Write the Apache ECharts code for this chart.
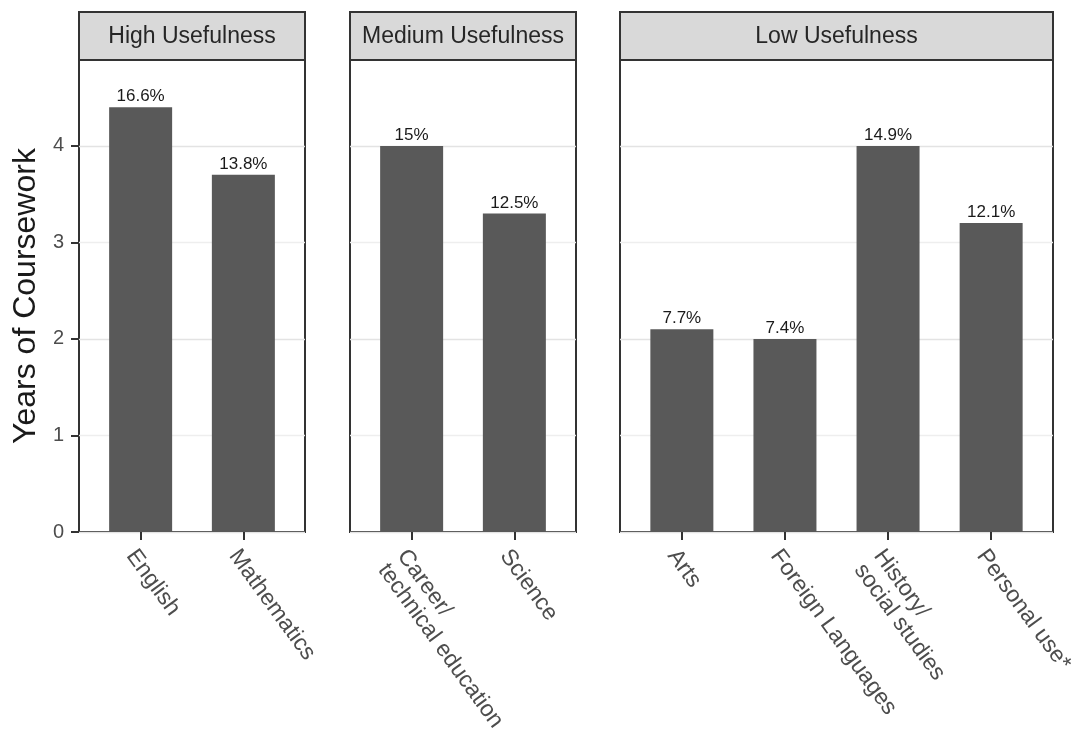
<!DOCTYPE html>
<html>
<head>
<meta charset="utf-8">
<script src="https://cdn.jsdelivr.net/npm/echarts@6/dist/echarts.min.js"></script>
<style>
html,body{margin:0;padding:0;background:#fff;}
#chart{width:1078px;height:744px;}
</style>
</head>
<body>
<div id="chart"></div>
<script>
// ---- data ----
const panelTitles = ['High Usefulness', 'Medium Usefulness', 'Low Usefulness'];

const highCategories = ['English', 'Mathematics'];
const highYears = [4.4, 3.7];
const highPercents = ['16.6%', '13.8%'];

const mediumCategories = ['Career/\ntechnical education', 'Science'];
const mediumYears = [4.0, 3.3];
const mediumPercents = ['15%', '12.5%'];

const lowCategories = ['Arts', 'Foreign Languages', 'History/\nsocial studies', 'Personal use*'];
const lowYears = [2.1, 2.0, 4.0, 3.2];
const lowPercents = ['7.7%', '7.4%', '14.9%', '12.1%'];

const yTickValues = [0, 1, 2, 3, 4];
const yAxisTitle = 'Years of Coursework';

// ---- layout / style ----
const FONT = 'Liberation Sans, Arial, sans-serif';
const PANELS = [
  { left: 79, width: 226 },
  { left: 350, width: 226 },
  { left: 620, width: 433 }
];
const PLOT_TOP = 60, PLOT_BOTTOM = 532, STRIP_TOP = 12;
const Y_MAX = 4.89;
const BAR_COLOR = '#595959';
const BORDER = '#333333';

const panelData = [
  { cats: highCategories, vals: highYears, pcts: highPercents },
  { cats: mediumCategories, vals: mediumYears, pcts: mediumPercents },
  { cats: lowCategories, vals: lowYears, pcts: lowPercents }
];

const grids = [], xAxes = [], yAxes = [], series = [], graphics = [];

panelData.forEach((p, i) => {
  const L = PANELS[i];
  const n = p.cats.length;
  const unit = L.width / (n + 0.2);
  grids.push({
    left: L.left, top: PLOT_TOP, width: L.width, height: PLOT_BOTTOM - PLOT_TOP,
    show: true, backgroundColor: '#fff', borderColor: BORDER, borderWidth: 2,
    containLabel: false, outerBoundsMode: 'none'
  });
  const positions = p.cats.map((c, k) => k + 1);
  xAxes.push({
    type: 'value', gridIndex: i, min: 0.4, max: n + 0.6,
    axisLine: { show: false },
    splitLine: { show: false },
    axisTick: { show: true, customValues: positions, length: 8, lineStyle: { color: BORDER, width: 2 } },
    axisLabel: {
      customValues: positions,
      formatter: v => p.cats[Math.round(v) - 1] || '',
      rotate: -54, align: 'left', verticalAlign: 'top',
      margin: 13, color: '#4d4d4d', fontSize: 23, fontFamily: FONT, lineHeight: 24
    }
  });
  yAxes.push({
    type: 'value', gridIndex: i, min: 0, max: Y_MAX, interval: 0.5,
    axisLine: { show: false },
    splitLine: { show: true, lineStyle: { color: ['#e3e3e3', '#eeeeee'], width: 1.3 } },
    axisTick: { show: i === 0, customValues: yTickValues, length: 8, lineStyle: { color: BORDER, width: 2 } },
    axisLabel: {
      show: i === 0, customValues: yTickValues, margin: 15,
      color: '#4d4d4d', fontSize: 20, fontFamily: FONT
    },
    name: i === 0 ? yAxisTitle : '',
    nameLocation: 'middle', nameGap: 37,
    nameTextStyle: { fontSize: 32, color: '#1a1a1a', fontFamily: FONT }
  });
  series.push({
    type: 'bar', xAxisIndex: i, yAxisIndex: i,
    barWidth: Math.round(unit * 0.61),
    itemStyle: { color: BAR_COLOR },
    data: p.vals.map((v, k) => [k + 1, v]),
    label: {
      show: true, position: 'top', distance: 2,
      formatter: prm => p.pcts[prm.dataIndex],
      color: '#1a1a1a', fontSize: 17, fontFamily: FONT
    },
    silent: true, animation: false
  });
  graphics.push({
    type: 'rect',
    shape: { x: L.left, y: STRIP_TOP, width: L.width, height: PLOT_TOP - STRIP_TOP },
    style: { fill: '#d9d9d9', stroke: BORDER, lineWidth: 2 },
    z: 10
  });
  graphics.push({
    type: 'text',
    x: L.left + L.width / 2, y: (STRIP_TOP + PLOT_TOP) / 2 + 1,
    style: {
      text: panelTitles[i], fill: '#262626', font: '23px ' + FONT,
      align: 'center', verticalAlign: 'middle'
    },
    z: 11
  });
});

const chart = echarts.init(document.getElementById('chart'), null, { renderer: 'canvas' });
chart.setOption({
  animation: false,
  backgroundColor: '#fff',
  grid: grids,
  xAxis: xAxes,
  yAxis: yAxes,
  series: series,
  graphic: graphics
});
</script>
</body>
</html>
